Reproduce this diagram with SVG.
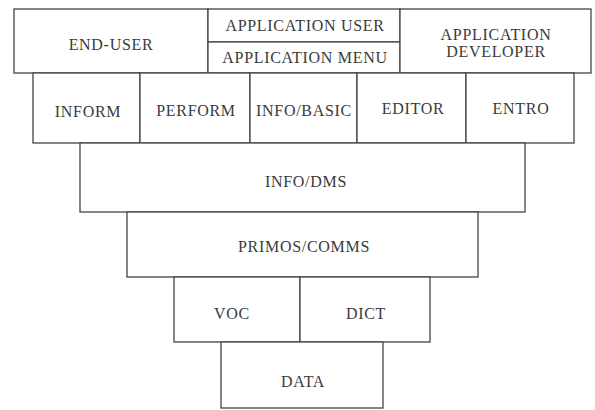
<svg xmlns="http://www.w3.org/2000/svg" width="595" height="410" viewBox="0 0 595 410">
<style>
.b{fill:#fff;stroke:#444;stroke-width:1.3}
.t{font-family:"Liberation Serif","DejaVu Serif",serif;font-size:16px;letter-spacing:0.7px;fill:#3a3a3a;text-anchor:middle;dominant-baseline:central}
</style>
<rect width="595" height="410" fill="#fff"/>
<g id="end-user"><rect class="b" x="14" y="9" width="194" height="64"/><text class="t" x="111" y="44">END-USER</text></g>
<g id="app-user"><rect class="b" x="208" y="9" width="192" height="33"/><text class="t" x="305" y="25">APPLICATION USER</text></g>
<g id="app-menu"><rect class="b" x="208" y="42" width="192" height="31"/><text class="t" x="305" y="57">APPLICATION MENU</text></g>
<g id="app-dev"><rect class="b" x="400" y="9" width="191" height="64"/><text class="t" x="496" y="34">APPLICATION</text><text class="t" x="496" y="51">DEVELOPER</text></g>
<g id="inform"><rect class="b" x="33" y="73" width="107" height="70"/><text class="t" x="88" y="111">INFORM</text></g>
<g id="perform"><rect class="b" x="140" y="73" width="110" height="70"/><text class="t" x="196" y="110">PERFORM</text></g>
<g id="infobasic"><rect class="b" x="250" y="73" width="107" height="70"/><text class="t" x="304" y="110">INFO/BASIC</text></g>
<g id="editor"><rect class="b" x="357" y="73" width="109" height="70"/><text class="t" x="413" y="108">EDITOR</text></g>
<g id="entro"><rect class="b" x="466" y="73" width="108" height="70"/><text class="t" x="521" y="108">ENTRO</text></g>
<g id="infodms"><rect class="b" x="80" y="143" width="445" height="69"/><text class="t" x="306" y="181">INFO/DMS</text></g>
<g id="primos"><rect class="b" x="127" y="212" width="351" height="65"/><text class="t" x="304" y="246">PRIMOS/COMMS</text></g>
<g id="voc"><rect class="b" x="174" y="277" width="126" height="65"/><text class="t" x="232" y="313">VOC</text></g>
<g id="dict"><rect class="b" x="300" y="277" width="130" height="65"/><text class="t" x="366" y="313">DICT</text></g>
<g id="data"><rect class="b" x="221" y="342" width="162" height="66"/><text class="t" x="303" y="381">DATA</text></g>
<g id="connectors"></g>
</svg>
